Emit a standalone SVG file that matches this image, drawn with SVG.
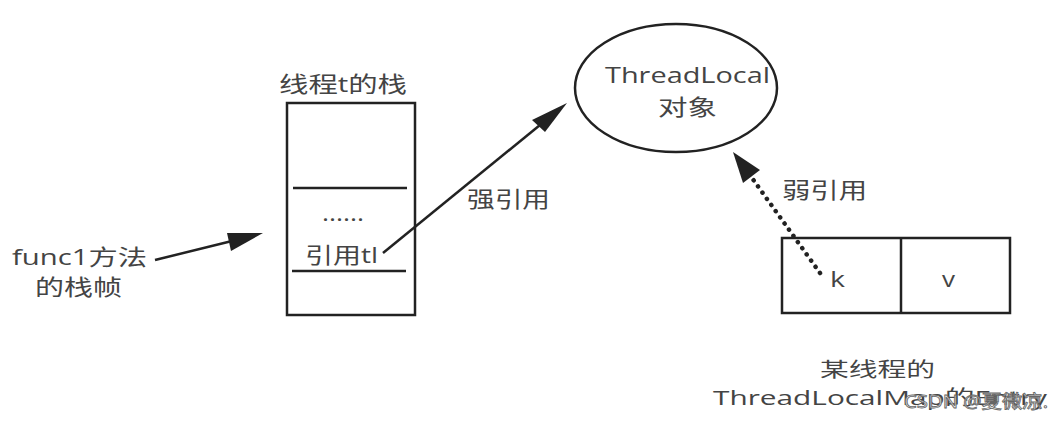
<svg xmlns="http://www.w3.org/2000/svg" width="1055" height="422" viewBox="0 0 1055 422">
<style>
.t{font-family:"Open Sans","Noto Sans CJK SC",sans-serif;font-size:22px;fill:#444}
.s{font-size:20px}
.box{fill:none;stroke:#222;stroke-width:2.5}
.ln{stroke:#222;stroke-width:2.5;fill:none}
.head{fill:#222}
.wm{font-family:"Open Sans","Noto Sans CJK SC",sans-serif;font-size:18px;fill:#fff;fill-opacity:0.85;stroke:#666;stroke-width:0.8}
</style>
<rect width="1055" height="422" fill="#fff"/>
<g id="stack">
<rect class="box" x="287" y="103" width="128" height="212"/>
<line class="ln" x1="293" y1="188" x2="407" y2="188"/>
<line class="ln" x1="292" y1="271" x2="406" y2="271"/>
<text class="t" x="279" y="92" textLength="128" lengthAdjust="spacingAndGlyphs">线程t的栈</text>
<text class="t" x="322" y="221" textLength="42" lengthAdjust="spacingAndGlyphs">......</text>
<text class="t" x="305" y="263" textLength="73" lengthAdjust="spacingAndGlyphs">引用tl</text>
</g>
<g id="func1">
<text class="t" x="12" y="265" textLength="135" lengthAdjust="spacingAndGlyphs">func1方法</text>
<text class="t" x="35" y="295" textLength="87" lengthAdjust="spacingAndGlyphs">的栈帧</text>
</g>
<g id="threadlocal">
<ellipse class="box" cx="676" cy="88" rx="101" ry="64"/>
<text class="t" x="605" y="83" textLength="165" lengthAdjust="spacingAndGlyphs">ThreadLocal</text>
<text class="t" x="658" y="115" textLength="59" lengthAdjust="spacingAndGlyphs">对象</text>
</g>
<g id="entry">
<rect class="box" x="782" y="238" width="228" height="75"/>
<line class="ln" x1="901" y1="238" x2="901" y2="313"/>
<text class="t" x="830" y="287" textLength="15" lengthAdjust="spacingAndGlyphs">k</text>
<text class="t" x="942" y="287" textLength="13" lengthAdjust="spacingAndGlyphs">v</text>
<text class="t s" x="820" y="377" textLength="115" lengthAdjust="spacingAndGlyphs">某线程的</text>
<text class="t s" x="713" y="405" textLength="334" lengthAdjust="spacingAndGlyphs">ThreadLocalMap的Entry</text>
</g>
<g id="connectors">
<line class="ln" x1="155" y1="260" x2="232" y2="241"/>
<polygon class="head" points="263,233 227,233 231,251"/>
<line class="ln" x1="383" y1="253" x2="540" y2="125"/>
<polygon class="head" points="567,103 532,120 545,132"/>
<line x1="820" y1="273" x2="752" y2="178" stroke="#222" stroke-width="4.5" stroke-linecap="round" stroke-dasharray="0.1 7.5"/>
<polygon class="head" points="733,152 760,170 743,183"/>
<text class="t" x="467" y="207" textLength="83" lengthAdjust="spacingAndGlyphs">强引用</text>
<text class="t" x="782" y="198" textLength="85" lengthAdjust="spacingAndGlyphs">弱引用</text>
</g>
<text class="wm" x="904" y="408" textLength="144" lengthAdjust="spacingAndGlyphs">CSDN @夏微凉.</text>
</svg>
